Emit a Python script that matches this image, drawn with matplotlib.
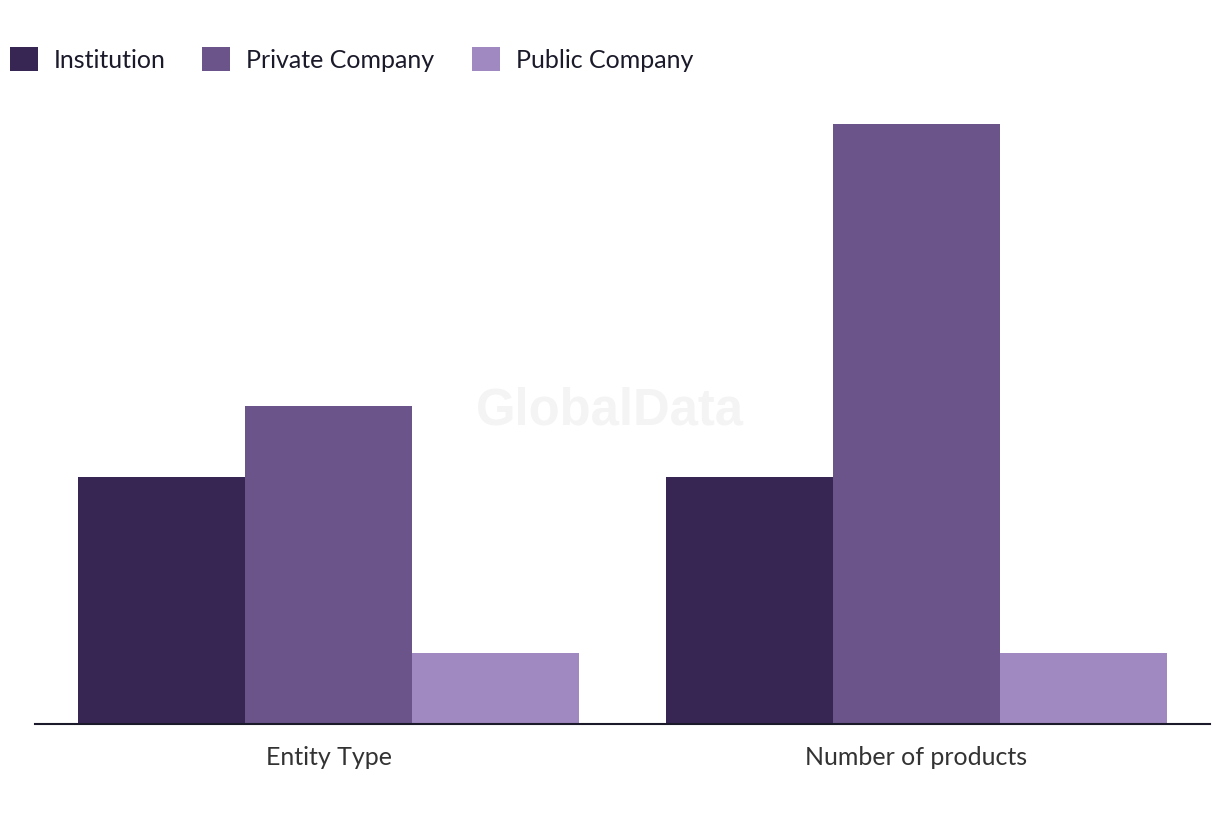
import matplotlib
matplotlib.use("Agg")
import matplotlib.pyplot as plt
import numpy as np
from matplotlib.patches import Patch

# data
categories = ["Entity Type", "Number of products"]
series = ["Institution", "Private Company", "Public Company"]
institution = [7, 7]
private_company = [9, 17]
public_company = [2, 2]
colors = ["#372654", "#6a5489", "#a088c0"]

plt.rcParams['font.family'] = ['Lato', 'DejaVu Sans']

fig = plt.figure(figsize=(12.2, 8.2), dpi=100)
ax = fig.add_axes([35 / 1220, 95 / 820, 1175 / 1220, 625 / 820])

x = np.arange(len(categories))
w = 0.284
for i, (vals, c) in enumerate(zip([institution, private_company, public_company], colors)):
    ax.bar(x + (i - 1) * w, vals, width=w, color=c, linewidth=0)

ax.set_xlim(-0.5, 1.5)
ax.set_ylim(0, 17.7)
ax.set_xticks(x)
ax.set_xticklabels(categories, fontsize=18, color="#333333")
ax.tick_params(axis="x", length=0, pad=15)
ax.set_yticks([])
for s in ["top", "right", "left"]:
    ax.spines[s].set_visible(False)
ax.spines["bottom"].set_color("#1a1a2a")
ax.spines["bottom"].set_linewidth(1.5)

# watermark
fig.text(610 / 1220, 1 - 411 / 820, "GlobalData", fontsize=36.5, fontweight="bold",
         color="#f4f4f4", ha="center", va="center", family=["Liberation Sans", "DejaVu Sans"])

handles = [Patch(facecolor=c, edgecolor="none") for c in colors]
fig.legend(handles, series, loc="upper left", bbox_to_anchor=(-3 / 1220, 1 - 35 / 820), ncol=3,
           frameon=False, fontsize=18, handlelength=1.12, handleheight=1.12, borderpad=0,
           handletextpad=0.64, columnspacing=1.48, labelcolor="#1a1a2a")

fig.savefig("out.png", dpi=100)
